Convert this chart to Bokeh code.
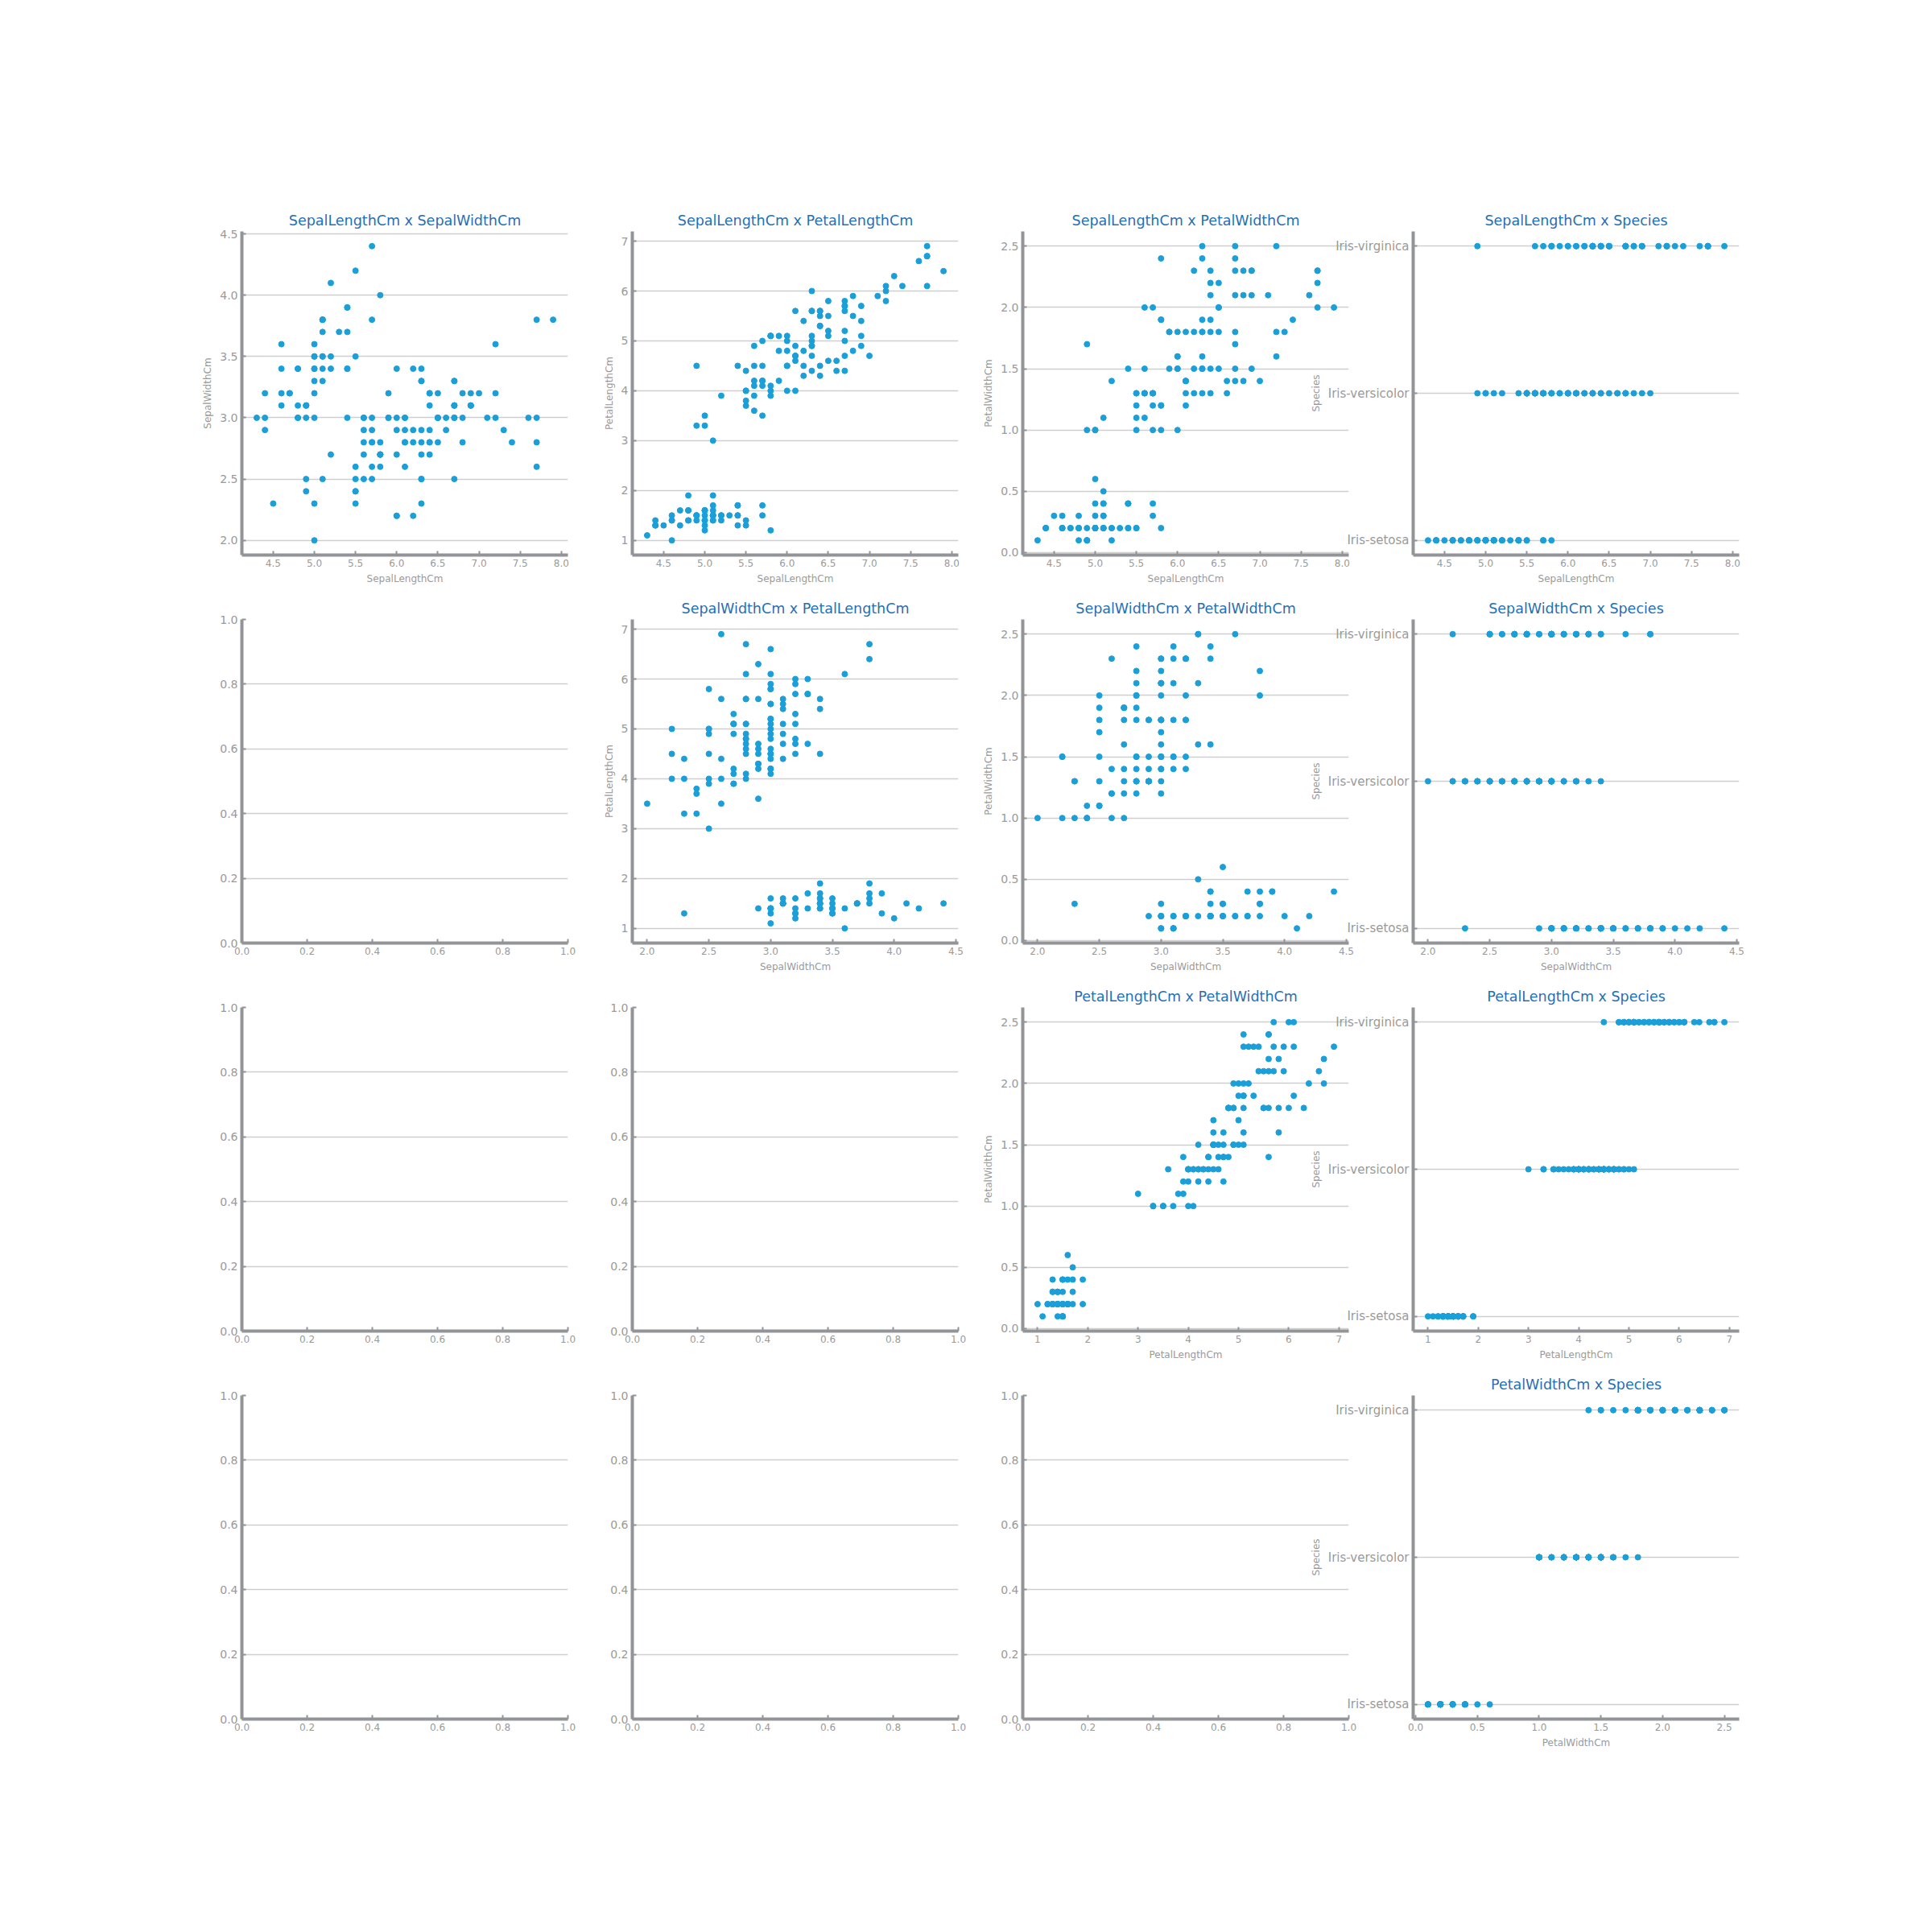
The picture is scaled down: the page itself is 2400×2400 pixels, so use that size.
from bokeh.plotting import figure
from bokeh.layouts import row, column
from bokeh.models import Range1d, FixedTicker, PrintfTickFormatter
from bokeh.embed import file_html
from bokeh.resources import INLINE

sepal_length = [
    5.1, 4.9, 4.7, 4.6, 5.0, 5.4, 4.6, 5.0, 4.4, 4.9, 5.4, 4.8, 4.8, 4.3, 5.8, 5.7, 5.4, 5.1, 5.7, 5.1,
    5.4, 5.1, 4.6, 5.1, 4.8, 5.0, 5.0, 5.2, 5.2, 4.7, 4.8, 5.4, 5.2, 5.5, 4.9, 5.0, 5.5, 4.9, 4.4, 5.1,
    5.0, 4.5, 4.4, 5.0, 5.1, 4.8, 5.1, 4.6, 5.3, 5.0,
    7.0, 6.4, 6.9, 5.5, 6.5, 5.7, 6.3, 4.9, 6.6, 5.2, 5.0, 5.9, 6.0, 6.1, 5.6, 6.7, 5.6, 5.8, 6.2, 5.6,
    5.9, 6.1, 6.3, 6.1, 6.4, 6.6, 6.8, 6.7, 6.0, 5.7, 5.5, 5.5, 5.8, 6.0, 5.4, 6.0, 6.7, 6.3, 5.6, 5.5,
    5.5, 6.1, 5.8, 5.0, 5.6, 5.7, 5.7, 6.2, 5.1, 5.7,
    6.3, 5.8, 7.1, 6.3, 6.5, 7.6, 4.9, 7.3, 6.7, 7.2, 6.5, 6.4, 6.8, 5.7, 5.8, 6.4, 6.5, 7.7, 7.7, 6.0,
    6.9, 5.6, 7.7, 6.3, 6.7, 7.2, 6.2, 6.1, 6.4, 7.2, 7.4, 7.9, 6.4, 6.3, 6.1, 7.7, 6.3, 6.4, 6.0, 6.9,
    6.7, 6.9, 5.8, 6.8, 6.7, 6.7, 6.3, 6.5, 6.2, 5.9,
]
sepal_width = [
    3.5, 3.0, 3.2, 3.1, 3.6, 3.9, 3.4, 3.4, 2.9, 3.1, 3.7, 3.4, 3.0, 3.0, 4.0, 4.4, 3.9, 3.5, 3.8, 3.8,
    3.4, 3.7, 3.6, 3.3, 3.4, 3.0, 3.4, 3.5, 3.4, 3.2, 3.1, 3.4, 4.1, 4.2, 3.1, 3.2, 3.5, 3.1, 3.0, 3.4,
    3.5, 2.3, 3.2, 3.5, 3.8, 3.0, 3.8, 3.2, 3.7, 3.3,
    3.2, 3.2, 3.1, 2.3, 2.8, 2.8, 3.3, 2.4, 2.9, 2.7, 2.0, 3.0, 2.2, 2.9, 2.9, 3.1, 3.0, 2.7, 2.2, 2.5,
    3.2, 2.8, 2.5, 2.8, 2.9, 3.0, 2.8, 3.0, 2.9, 2.6, 2.4, 2.4, 2.7, 2.7, 3.0, 3.4, 3.1, 2.3, 3.0, 2.5,
    2.6, 3.0, 2.6, 2.3, 2.7, 3.0, 2.9, 2.9, 2.5, 2.8,
    3.3, 2.7, 3.0, 2.9, 3.0, 3.0, 2.5, 2.9, 2.5, 3.6, 3.2, 2.7, 3.0, 2.5, 2.8, 3.2, 3.0, 3.8, 2.6, 2.2,
    3.2, 2.8, 2.8, 2.7, 3.3, 3.2, 2.8, 3.0, 2.8, 3.0, 2.8, 3.8, 2.8, 2.8, 2.6, 3.0, 3.4, 3.1, 3.0, 3.1,
    3.1, 3.1, 2.7, 3.2, 3.3, 3.0, 2.5, 3.0, 3.4, 3.0,
]
petal_length = [
    1.4, 1.4, 1.3, 1.5, 1.4, 1.7, 1.4, 1.5, 1.4, 1.5, 1.5, 1.6, 1.4, 1.1, 1.2, 1.5, 1.3, 1.4, 1.7, 1.5,
    1.7, 1.5, 1.0, 1.7, 1.9, 1.6, 1.6, 1.5, 1.4, 1.6, 1.6, 1.5, 1.5, 1.4, 1.5, 1.2, 1.3, 1.5, 1.3, 1.5,
    1.3, 1.3, 1.3, 1.6, 1.9, 1.4, 1.6, 1.4, 1.5, 1.4,
    4.7, 4.5, 4.9, 4.0, 4.6, 4.5, 4.7, 3.3, 4.6, 3.9, 3.5, 4.2, 4.0, 4.7, 3.6, 4.4, 4.5, 4.1, 4.5, 3.9,
    4.8, 4.0, 4.9, 4.7, 4.3, 4.4, 4.8, 5.0, 4.5, 3.5, 3.8, 3.7, 3.9, 5.1, 4.5, 4.5, 4.7, 4.4, 4.1, 4.0,
    4.4, 4.6, 4.0, 3.3, 4.2, 4.2, 4.2, 4.3, 3.0, 4.1,
    6.0, 5.1, 5.9, 5.6, 5.8, 6.6, 4.5, 6.3, 5.8, 6.1, 5.1, 5.3, 5.5, 5.0, 5.1, 5.3, 5.5, 6.7, 6.9, 5.0,
    5.7, 4.9, 6.7, 4.9, 5.7, 6.0, 4.8, 4.9, 5.6, 5.8, 6.1, 6.4, 5.6, 5.1, 5.6, 6.1, 5.6, 5.5, 4.8, 5.4,
    5.6, 5.1, 5.1, 5.9, 5.7, 5.2, 5.0, 5.2, 5.4, 5.1,
]
petal_width = [
    0.2, 0.2, 0.2, 0.2, 0.2, 0.4, 0.3, 0.2, 0.2, 0.1, 0.2, 0.2, 0.1, 0.1, 0.2, 0.4, 0.4, 0.3, 0.3, 0.3,
    0.2, 0.4, 0.2, 0.5, 0.2, 0.2, 0.4, 0.2, 0.2, 0.2, 0.2, 0.4, 0.1, 0.2, 0.1, 0.2, 0.2, 0.1, 0.2, 0.2,
    0.3, 0.3, 0.2, 0.6, 0.4, 0.3, 0.2, 0.2, 0.2, 0.2,
    1.4, 1.5, 1.5, 1.3, 1.5, 1.3, 1.6, 1.0, 1.3, 1.4, 1.0, 1.5, 1.0, 1.4, 1.3, 1.4, 1.5, 1.0, 1.5, 1.1,
    1.8, 1.3, 1.5, 1.2, 1.3, 1.4, 1.4, 1.7, 1.5, 1.0, 1.1, 1.0, 1.2, 1.6, 1.5, 1.6, 1.5, 1.3, 1.3, 1.3,
    1.2, 1.4, 1.2, 1.0, 1.3, 1.2, 1.3, 1.3, 1.1, 1.3,
    2.5, 1.9, 2.1, 1.8, 2.2, 2.1, 1.7, 1.8, 1.8, 2.5, 2.0, 1.9, 2.1, 2.0, 2.4, 2.3, 1.8, 2.2, 2.3, 1.5,
    2.3, 2.0, 2.0, 1.8, 2.1, 1.8, 1.8, 1.8, 2.1, 1.6, 1.9, 2.0, 2.2, 1.5, 1.4, 2.3, 2.4, 1.8, 1.8, 2.1,
    2.4, 2.3, 1.9, 2.3, 2.5, 2.3, 1.9, 2.0, 2.3, 1.8,
]
species = (
    ["Iris-setosa", "Iris-setosa", "Iris-setosa", "Iris-setosa", "Iris-setosa",
     "Iris-setosa", "Iris-setosa", "Iris-setosa", "Iris-setosa", "Iris-setosa"] * 5
    + ["Iris-versicolor", "Iris-versicolor", "Iris-versicolor", "Iris-versicolor", "Iris-versicolor",
       "Iris-versicolor", "Iris-versicolor", "Iris-versicolor", "Iris-versicolor", "Iris-versicolor"] * 5
    + ["Iris-virginica", "Iris-virginica", "Iris-virginica", "Iris-virginica", "Iris-virginica",
       "Iris-virginica", "Iris-virginica", "Iris-virginica", "Iris-virginica", "Iris-virginica"] * 5
)
species_categories = ["Iris-setosa", "Iris-versicolor", "Iris-virginica"]

variable_names = ["SepalLengthCm", "SepalWidthCm", "PetalLengthCm", "PetalWidthCm", "Species"]
sl_ticks = [4.5, 5.0, 5.5, 6.0, 6.5, 7.0, 7.5, 8.0]
sw_ticks = [2.0, 2.5, 3.0, 3.5, 4.0, 4.5]
pl_ticks = [1, 2, 3, 4, 5, 6, 7]
pw_ticks = [0.0, 0.5, 1.0, 1.5, 2.0, 2.5]
empty_ticks = [0.0, 0.2, 0.4, 0.6, 0.8, 1.0]

species_index = [species_categories.index(s) for s in species]
columns = {
    "SepalLengthCm": (sepal_length, sl_ticks, "%.1f"),
    "SepalWidthCm": (sepal_width, sw_ticks, "%.1f"),
    "PetalLengthCm": (petal_length, pl_ticks, "%d"),
    "PetalWidthCm": (petal_width, pw_ticks, "%.1f"),
    "Species": (species_index, [0, 1, 2], None),
}

FONT = "DejaVu Sans"
SPINE = "#939498"
TICK_TXT = "#9a9a9a"
POINT = "#1a9fd9"
TITLE = "#1f70b5"


def padded_range(vals):
    lo, hi = min(vals), max(vals)
    pad = 0.05 * (hi - lo)
    return Range1d(lo - pad, hi + pad)


def style_axis(ax, ticks, fmt, font_size):
    ax.ticker = FixedTicker(ticks=ticks)
    if fmt is not None:
        ax.formatter = PrintfTickFormatter(format=fmt)
    ax.axis_line_color = SPINE
    ax.axis_line_width = 4
    ax.major_tick_line_color = SPINE
    ax.major_tick_line_width = 2
    ax.major_tick_in = 5
    ax.major_tick_out = 0
    ax.minor_tick_line_color = None
    ax.major_label_text_color = TICK_TXT
    ax.major_label_text_font = FONT
    ax.major_label_text_font_size = font_size
    ax.axis_label_text_color = TICK_TXT
    ax.axis_label_text_font = FONT
    ax.axis_label_text_font_size = "12px"
    ax.axis_label_text_font_style = "normal"


def make_fig(r, c):
    margin_left = 140 if c == 0 else -100
    margin_top = 249 if r == 0 else 0
    empty = c < r
    if empty:
        xr, yr = Range1d(0, 1), Range1d(0, 1)
        title = None
    else:
        xn, yn = variable_names[r], variable_names[c + 1]
        xv, xt, xf = columns[xn]
        yv, yt, yf = columns[yn]
        xr = padded_range(xv)
        yr = padded_range(yv)
        title = f"{xn} x {yn}"
    p = figure(width=585, height=482, x_range=xr, y_range=yr,
               output_backend="svg", toolbar_location=None,
               min_border_left=160, min_border_right=20,
               min_border_top=38, min_border_bottom=42,
               title=title)
    p.margin = (margin_top, 0, 0, margin_left)
    p.border_fill_alpha = 0
    p.outline_line_color = None
    p.xgrid.grid_line_color = None
    p.ygrid.grid_line_color = "#cfcfcf"
    p.ygrid.grid_line_width = 1.5
    if title:
        p.title.text_font = FONT
        p.title.text_font_size = "17.5px"
        p.title.text_font_style = "normal"
        p.title.text_color = TITLE
        p.title.align = "center"
        p.title.standoff = 7
    if empty:
        style_axis(p.xaxis[0], empty_ticks, "%.1f", "12px")
        style_axis(p.yaxis[0], empty_ticks, "%.1f", "14px")
    else:
        style_axis(p.xaxis[0], xt, xf, "12px")
        p.xaxis[0].axis_label = xn
        if yn == "Species":
            style_axis(p.yaxis[0], yt, None, "15px")
            p.yaxis[0].major_label_overrides = {i: s for i, s in enumerate(species_categories)}
        else:
            style_axis(p.yaxis[0], yt, yf, "14px")
        p.yaxis[0].axis_label = yn
        p.scatter(xv, yv, size=7, fill_color=POINT, line_color=POINT)
    return p


rows = []
for r in range(4):
    rows.append(row([make_fig(r, c) for c in range(4)]))
layout = column(rows)

open("out.html", "w").write(file_html(layout, INLINE))
